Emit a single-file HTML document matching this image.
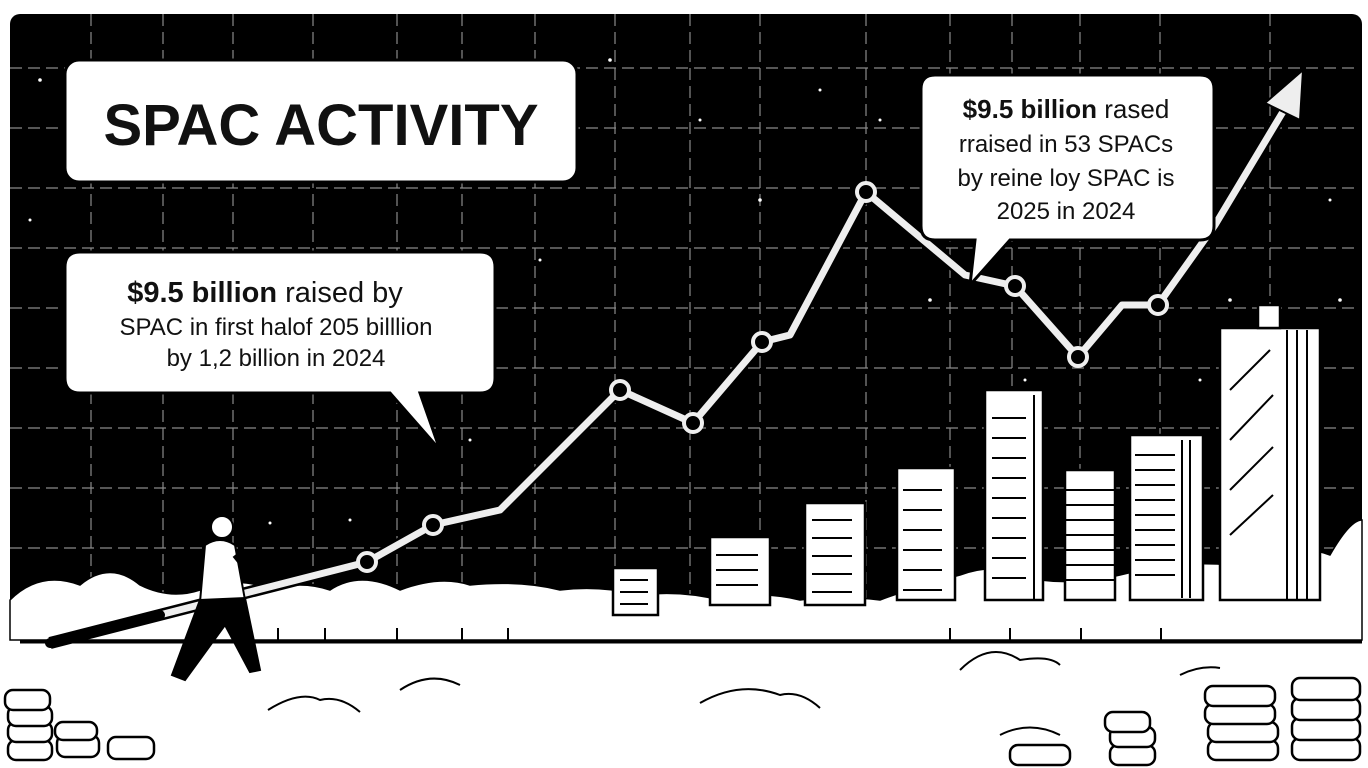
<!DOCTYPE html>
<html><head><meta charset="utf-8"><style>
html,body{margin:0;padding:0;background:#fff}
svg{display:block}
text{font-family:"Liberation Sans",sans-serif;fill:#111}
</style></head><body>
<svg width="1368" height="768" viewBox="0 0 1368 768" xmlns="http://www.w3.org/2000/svg">
<rect width="1368" height="768" fill="#fff"/>
<rect x="10" y="14" width="1352" height="626" rx="10" fill="#000"/>
<!-- grid -->
<g stroke="#8a8a8a" stroke-width="1.2" stroke-dasharray="12 6" fill="none">
<line x1="10" y1="68" x2="1360" y2="68"/>
<line x1="10" y1="128" x2="1360" y2="128"/>
<line x1="10" y1="188" x2="1360" y2="188"/>
<line x1="10" y1="248" x2="1360" y2="248"/>
<line x1="10" y1="308" x2="1360" y2="308"/>
<line x1="10" y1="368" x2="1360" y2="368"/>
<line x1="10" y1="428" x2="1360" y2="428"/>
<line x1="10" y1="488" x2="1360" y2="488"/>
<line x1="10" y1="548" x2="1360" y2="548"/>
<line x1="91" y1="14" x2="91" y2="640"/><line x1="163" y1="14" x2="163" y2="640"/>
<line x1="233" y1="14" x2="233" y2="640"/><line x1="313" y1="14" x2="313" y2="640"/>
<line x1="397" y1="14" x2="397" y2="640"/><line x1="462" y1="14" x2="462" y2="640"/>
<line x1="535" y1="14" x2="535" y2="640"/><line x1="615" y1="14" x2="615" y2="640"/>
<line x1="690" y1="14" x2="690" y2="640"/><line x1="760" y1="14" x2="760" y2="640"/>
<line x1="866" y1="14" x2="866" y2="640"/><line x1="950" y1="14" x2="950" y2="640"/>
<line x1="1012" y1="14" x2="1012" y2="640"/><line x1="1080" y1="14" x2="1080" y2="640"/>
<line x1="1160" y1="14" x2="1160" y2="640"/><line x1="1270" y1="14" x2="1270" y2="640"/>
</g>
<!-- stars -->
<g fill="#fff">
<circle cx="40" cy="80" r="1.8"/><circle cx="30" cy="220" r="1.5"/><circle cx="610" cy="60" r="1.8"/><circle cx="700" cy="120" r="1.5"/><circle cx="820" cy="90" r="1.5"/><circle cx="760" cy="200" r="1.8"/><circle cx="540" cy="260" r="1.5"/><circle cx="470" cy="440" r="1.5"/><circle cx="930" cy="300" r="1.8"/><circle cx="1230" cy="300" r="1.8"/><circle cx="1340" cy="300" r="1.8"/><circle cx="1300" cy="400" r="1.5"/><circle cx="350" cy="520" r="1.5"/><circle cx="270" cy="523" r="1.5"/><circle cx="1025" cy="380" r="1.5"/><circle cx="1200" cy="380" r="1.5"/><circle cx="880" cy="120" r="1.5"/><circle cx="1330" cy="200" r="1.5"/>
</g>
<!-- ground white hills -->
<path d="M10 600 Q40 570 80 585 Q110 560 140 585 Q170 600 200 590 Q240 575 270 590 Q300 580 330 590 Q360 570 400 590 Q440 575 470 585 Q520 580 560 590 Q600 585 640 595 Q680 590 720 600 Q760 590 800 600 Q840 595 880 600 Q920 585 960 575 Q1000 560 1040 580 Q1080 585 1120 575 Q1180 560 1230 565 Q1290 540 1330 555 Q1350 520 1362 520 L1362 640 L10 640 Z" fill="#fff" stroke="#000" stroke-width="1.5"/>
<line x1="20" y1="642" x2="1362" y2="642" stroke="#000" stroke-width="3"/>
<g stroke="#000" stroke-width="2"><line x1="233" y1="628" x2="233" y2="642"/><line x1="278" y1="628" x2="278" y2="642"/><line x1="325" y1="628" x2="325" y2="642"/><line x1="397" y1="628" x2="397" y2="642"/><line x1="462" y1="628" x2="462" y2="642"/><line x1="508" y1="628" x2="508" y2="642"/><line x1="950" y1="628" x2="950" y2="642"/><line x1="1010" y1="628" x2="1010" y2="642"/><line x1="1081" y1="628" x2="1081" y2="642"/><line x1="1161" y1="628" x2="1161" y2="642"/></g>
<!-- buildings -->
<g fill="#fff" stroke="#000" stroke-width="2.5">
<rect x="613" y="568" width="45" height="47"/>
<rect x="710" y="537" width="60" height="68"/>
<rect x="805" y="503" width="60" height="102"/>
<rect x="897" y="468" width="58" height="132"/>
<rect x="985" y="390" width="58" height="210"/>
<rect x="1065" y="470" width="50" height="130"/>
<rect x="1130" y="435" width="73" height="165"/>
<rect x="1220" y="328" width="100" height="272"/>
<rect x="1258" y="305" width="22" height="23"/>
</g>
<g stroke="#000" stroke-width="2">
<line x1="620" y1="580" x2="648" y2="580"/><line x1="620" y1="592" x2="648" y2="592"/><line x1="620" y1="604" x2="648" y2="604"/>
<line x1="716" y1="555" x2="758" y2="555"/><line x1="716" y1="570" x2="758" y2="570"/><line x1="716" y1="585" x2="758" y2="585"/>
<line x1="812" y1="520" x2="852" y2="520"/><line x1="812" y1="538" x2="852" y2="538"/><line x1="812" y1="556" x2="852" y2="556"/><line x1="812" y1="574" x2="852" y2="574"/><line x1="812" y1="592" x2="852" y2="592"/>
<line x1="903" y1="490" x2="942" y2="490"/><line x1="903" y1="510" x2="942" y2="510"/><line x1="903" y1="530" x2="942" y2="530"/><line x1="903" y1="550" x2="942" y2="550"/><line x1="903" y1="570" x2="942" y2="570"/><line x1="903" y1="590" x2="942" y2="590"/>
<line x1="992" y1="418" x2="1026" y2="418"/><line x1="992" y1="438" x2="1026" y2="438"/><line x1="992" y1="458" x2="1026" y2="458"/><line x1="992" y1="478" x2="1026" y2="478"/><line x1="992" y1="498" x2="1026" y2="498"/><line x1="992" y1="518" x2="1026" y2="518"/><line x1="992" y1="538" x2="1026" y2="538"/><line x1="992" y1="558" x2="1026" y2="558"/><line x1="992" y1="578" x2="1026" y2="578"/>
<line x1="1034" y1="395" x2="1034" y2="600"/><line x1="1287" y1="330" x2="1287" y2="600"/><line x1="1297" y1="330" x2="1297" y2="600"/><line x1="1307" y1="330" x2="1307" y2="600"/>
<line x1="1065" y1="490" x2="1115" y2="490"/><line x1="1065" y1="505" x2="1115" y2="505"/><line x1="1065" y1="520" x2="1115" y2="520"/><line x1="1065" y1="535" x2="1115" y2="535"/><line x1="1065" y1="550" x2="1115" y2="550"/><line x1="1065" y1="565" x2="1115" y2="565"/><line x1="1065" y1="580" x2="1115" y2="580"/>
<line x1="1135" y1="455" x2="1175" y2="455"/><line x1="1135" y1="470" x2="1175" y2="470"/><line x1="1135" y1="485" x2="1175" y2="485"/><line x1="1135" y1="500" x2="1175" y2="500"/><line x1="1135" y1="515" x2="1175" y2="515"/><line x1="1135" y1="530" x2="1175" y2="530"/><line x1="1135" y1="545" x2="1175" y2="545"/><line x1="1135" y1="560" x2="1175" y2="560"/><line x1="1135" y1="575" x2="1175" y2="575"/>
<line x1="1182" y1="440" x2="1182" y2="598"/><line x1="1190" y1="440" x2="1190" y2="598"/>
<line x1="1230" y1="390" x2="1270" y2="350"/><line x1="1230" y1="440" x2="1273" y2="395"/><line x1="1230" y1="490" x2="1273" y2="447"/><line x1="1230" y1="535" x2="1273" y2="495"/>
</g>
<!-- chart line -->
<polyline points="50,643 367,562 433,525 500,510 620,390 693,423 762,342 790,335 866,192 965,275 1015,286 1078,357 1122,305 1158,305 1215,225 1290,100" fill="none" stroke="#000" stroke-width="12" stroke-linejoin="round"/>
<polyline points="50,643 367,562 433,525 500,510 620,390 693,423 762,342 790,335 866,192 965,275 1015,286 1078,357 1122,305 1158,305 1215,225 1290,100" fill="none" stroke="#eee" stroke-width="7" stroke-linejoin="round"/>
<polygon points="1303,70 1265,103 1300,120" fill="#eee" stroke="#000" stroke-width="2"/>
<g fill="#000" stroke="#eee" stroke-width="4">
<circle cx="367" cy="562" r="9"/><circle cx="433" cy="525" r="9"/><circle cx="620" cy="390" r="9"/><circle cx="693" cy="423" r="9"/><circle cx="762" cy="342" r="9"/><circle cx="866" cy="192" r="9"/><circle cx="1015" cy="286" r="9"/><circle cx="1078" cy="357" r="9"/><circle cx="1158" cy="305" r="9"/>
</g>
<line x1="50" y1="643" x2="160" y2="615" stroke="#000" stroke-width="10" stroke-linecap="round"/>
<!-- person -->
<g stroke="#000" stroke-width="2">
<circle cx="222" cy="527" r="11" fill="#fff"/>
<path d="M210 520 Q220 510 235 516" fill="none" stroke-width="4"/>
<path d="M205 545 Q220 535 235 545 L245 600 L200 602 Z" fill="#fff"/>
<path d="M200 600 L245 598 L260 670 L250 672 L225 625 L185 680 L172 675 Z" fill="#000"/>
<path d="M235 555 L255 580" fill="none" stroke-width="6"/>
</g>
<!-- ground scribbles -->
<g fill="none" stroke="#000" stroke-width="2">
<path d="M268 710 Q300 690 320 700 Q340 695 360 712"/>
<path d="M700 703 Q740 680 780 695 Q800 690 820 708"/>
<path d="M400 690 Q430 670 460 685"/>
<path d="M960 670 Q990 640 1020 660 Q1050 655 1060 665"/>
<path d="M1000 735 Q1030 720 1060 735"/>
<path d="M1180 675 Q1200 665 1220 668"/>
</g>
<!-- coins -->
<g fill="#fff" stroke="#000" stroke-width="2.5">
<rect x="8" y="740" width="44" height="20" rx="8"/><rect x="8" y="722" width="44" height="20" rx="8"/><rect x="8" y="706" width="44" height="20" rx="8"/><rect x="5" y="690" width="45" height="20" rx="8"/>
<rect x="57" y="735" width="42" height="22" rx="8"/><rect x="55" y="722" width="42" height="18" rx="8"/>
<rect x="108" y="737" width="46" height="22" rx="8"/>
<rect x="1110" y="745" width="45" height="20" rx="8"/><rect x="1110" y="727" width="45" height="20" rx="8"/><rect x="1105" y="712" width="45" height="20" rx="8"/>
<rect x="1208" y="740" width="70" height="20" rx="8"/><rect x="1208" y="722" width="70" height="20" rx="8"/><rect x="1205" y="704" width="70" height="20" rx="8"/><rect x="1205" y="686" width="70" height="20" rx="8"/>
<rect x="1292" y="738" width="68" height="22" rx="8"/><rect x="1292" y="718" width="68" height="22" rx="8"/><rect x="1292" y="698" width="68" height="22" rx="8"/><rect x="1292" y="678" width="68" height="22" rx="8"/>
<rect x="1010" y="745" width="60" height="20" rx="8"/>
</g>
<!-- title box -->
<rect x="65" y="60" width="512" height="122" rx="14" fill="#fff" stroke="#000" stroke-width="3"/>
<text x="321" y="145" text-anchor="middle" font-size="58" font-weight="bold">SPAC ACTIVITY</text>
<!-- left callout -->
<path d="M80 252 H480 Q495 252 495 267 V378 Q495 393 480 393 H420 L440 450 L390 393 H80 Q65 393 65 378 V267 Q65 252 80 252 Z" fill="#fff" stroke="#000" stroke-width="3"/>
<text x="265" y="302" text-anchor="middle" font-size="29"><tspan font-weight="bold">$9.5 billion</tspan> raised by</text>
<text x="276" y="335" text-anchor="middle" font-size="24">SPAC in first halof 205 billlion</text>
<text x="276" y="366" text-anchor="middle" font-size="24">by 1,2 billion in 2024</text>
<!-- right callout -->
<path d="M935 75 H1200 Q1214 75 1214 89 V226 Q1214 240 1200 240 H1010 L970 285 L975 240 H935 Q921 240 921 226 V89 Q921 75 935 75 Z" fill="#fff" stroke="#000" stroke-width="3"/>
<text x="1066" y="118" text-anchor="middle" font-size="26"><tspan font-weight="bold">$9.5 billion</tspan> rased</text>
<text x="1066" y="152" text-anchor="middle" font-size="24">rraised in 53 SPACs</text>
<text x="1066" y="186" text-anchor="middle" font-size="24">by reine loy SPAC is</text>
<text x="1066" y="219" text-anchor="middle" font-size="24">2025 in 2024</text>
</svg>
</body></html>
